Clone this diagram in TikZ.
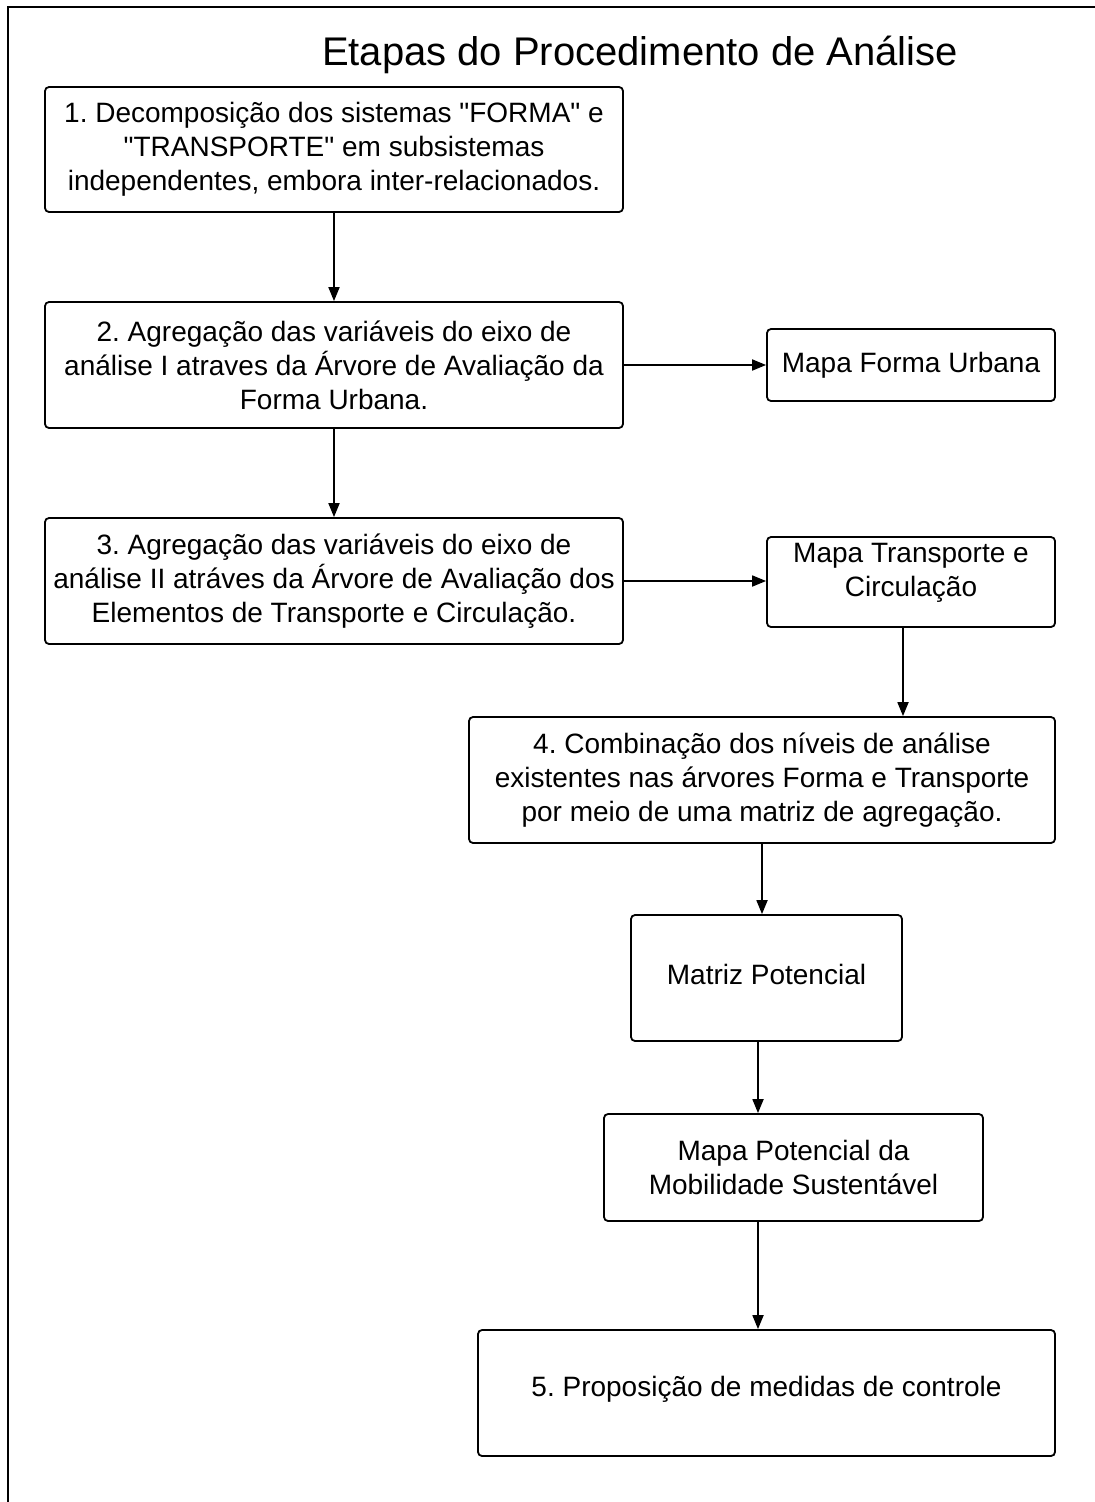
\documentclass[tikz,border=0pt]{standalone}
\usepackage{fontspec}
\setmainfont{Liberation Sans}[Ligatures=TeXOff]
\usetikzlibrary{arrows.meta,positioning}
\frenchspacing

\tikzset{
  stepbox/.style={draw, line width=1.8pt, rounded corners=4pt, align=center,
    font=\fontsize{28}{34}\selectfont, inner sep=0pt},
  boxtext/.style={align=center, font=\fontsize{28}{34}\selectfont, inner sep=0pt},
  flow/.style={line width=1.8pt, -{Triangle[length=14pt,width=11pt]}}
}

\begin{document}
\begin{tikzpicture}[x=1pt,y=-1pt]
  \useasboundingbox (0,0) rectangle (1095,1502);

  % page frame (open on the right and bottom)
  \draw[line width=2pt] (8,1510) -- (8,7) -- (1100,7);

  % heading
  \node[anchor=base, font=\fontsize{40}{48}\selectfont] (title) at (640,65)
    {Etapas do Procedimento de Análise};

  % analysis steps
  \node[stepbox, minimum width=578pt, minimum height=125pt] (s1) at (334,149.5)
    {1. Decomposição dos sistemas "FORMA" e\\"TRANSPORTE" em subsistemas\\independentes, embora inter-relacionados.};
  \node[stepbox, minimum width=578pt, minimum height=126pt] (s2) at (334,365)
    {2. Agregação das variáveis do eixo de\\análise I atraves da Árvore de Avaliação da\\Forma Urbana.};
  \node[stepbox, minimum width=578pt, minimum height=126pt] (s3) at (334,581)
    {3. Agregação das variáveis do eixo de\\análise II atráves da Árvore de Avaliação dos\\Elementos de Transporte e Circulação.};
  \node[stepbox, minimum width=288pt, minimum height=72pt] (mf) at (911,365)
    {Mapa Forma Urbana};
  \node[stepbox, minimum width=288pt, minimum height=90pt] (mt) at (911,582) {};
  \node[boxtext] (mtlabel) at (911,573) {Mapa Transporte e\\Circulação};
  \node[stepbox, minimum width=586pt, minimum height=126pt] (s4) at (762,780)
    {4. Combinação dos níveis de análise\\existentes nas árvores Forma e Transporte\\por meio de uma matriz de agregação.};
  \node[stepbox, minimum width=271pt, minimum height=126pt] (mp) at (766.5,978) {};
  \node[boxtext] (mplabel) at (766.5,974) {Matriz Potencial};
  \node[stepbox, minimum width=379pt, minimum height=107pt] (ms) at (793.5,1167.5)
    {Mapa Potencial da\\Mobilidade Sustentável};
  \node[stepbox, minimum width=577pt, minimum height=126pt] (s5) at (766.5,1393) {};
  \node[boxtext] (s5label) at (766.5,1389) {5. Proposição de medidas de controle};

  % connectors
  \draw[flow] (s1.south) -- (s2.north);
  \draw[flow] (s2.south) -- (s3.north);
  \draw[flow] (s2.east) -- (mf.west);
  \draw[flow] (s3.east) -- (s3.east -| mt.west);
  \draw[flow] ([xshift=-8pt]mt.south) -- ([xshift=-8pt]mt.south |- s4.north);
  \draw[flow] (s4.south) -- (s4.south |- mp.north);
  \draw[flow] ([xshift=-8.5pt]mp.south) -- ([xshift=-8.5pt]mp.south |- ms.north);
  \draw[flow] ([xshift=-35.5pt]ms.south) -- ([xshift=-35.5pt]ms.south |- s5.north);
\end{tikzpicture}
\end{document}
